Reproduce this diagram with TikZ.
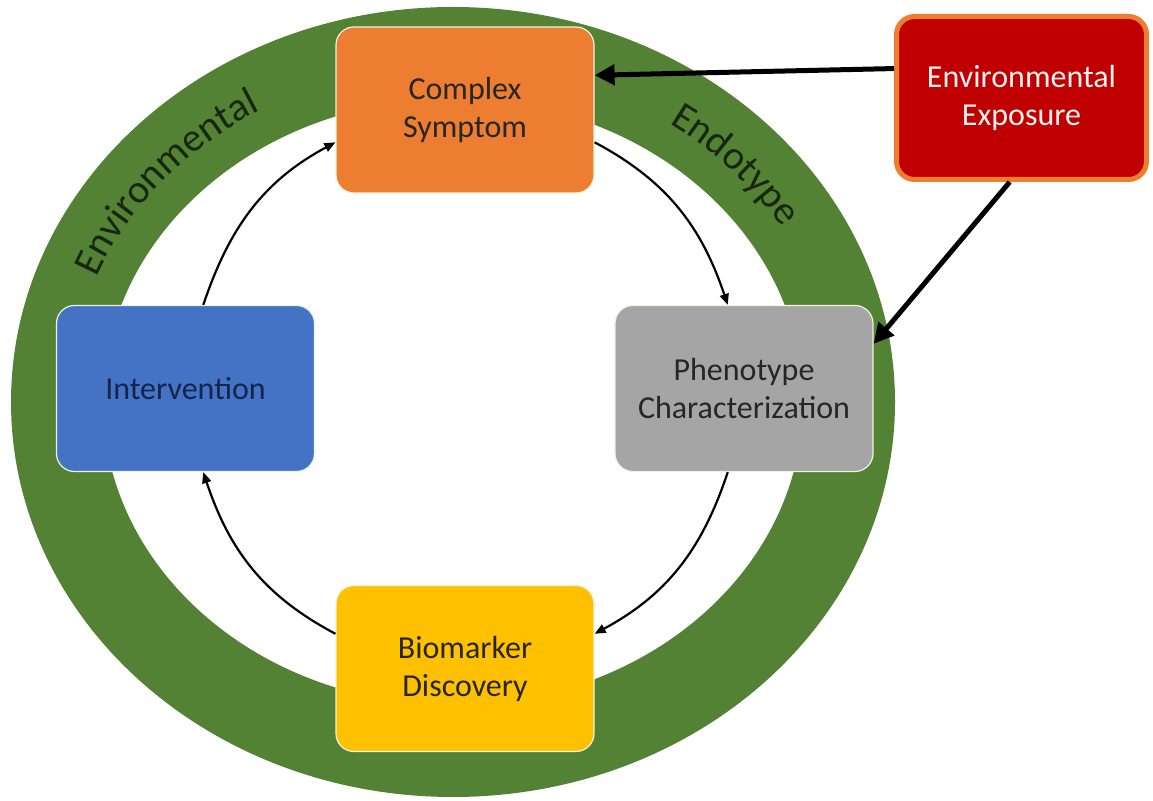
\documentclass[tikz,border=0pt]{standalone}
\usepackage{fontspec}
\setmainfont{Carlito}
\usetikzlibrary{arrows.meta,decorations.text}
\definecolor{ringgreen}{HTML}{548235}
\definecolor{ringtext}{HTML}{18260F}
\definecolor{csorange}{HTML}{ED7D31}
\definecolor{eered}{HTML}{C00000}
\definecolor{ivblue}{HTML}{4472C4}
\definecolor{phgray}{HTML}{A5A5A5}
\definecolor{bmgold}{HTML}{FFC000}
\definecolor{boxline}{HTML}{EEF3DC}
\definecolor{darktxt}{HTML}{262626}
\definecolor{navytxt}{HTML}{15244A}
\definecolor{lighttxt}{HTML}{F2F2F2}
\tikzset{
  box/.style={rectangle, rounded corners=18pt, minimum width=258pt, minimum height=166pt,
    draw=boxline, line width=1.2pt, align=center, inner sep=0pt,
    font=\fontsize{32}{38}\selectfont, text=darktxt},
  cyc/.style={line width=2.2pt, draw=black, -{Triangle[length=11pt,width=9pt]}},
  expo/.style={line width=5pt, draw=black, -{Triangle[length=20pt,width=20pt]}},
  ringlabel/.style={decorate, decoration={text along path, text align=center,
    text={|\fontsize{40}{40}\selectfont\color{ringtext}|#1}}}
}
\begin{document}
\begin{tikzpicture}[x=1pt,y=1pt]
\useasboundingbox (0,0) rectangle (1153,800);
% ring
\fill[ringgreen, even odd rule] (453,398) ellipse [x radius=442, y radius=395]
  (453,398) ellipse [x radius=350, y radius=303];
% ring labels
\path[ringlabel=Environmental] (453,398) ++(175:384 and 337)
  arc[start angle=175, end angle=105, x radius=384, y radius=337];
\path[ringlabel=Endotype] (453,398) ++(75:384 and 337)
  arc[start angle=75, end angle=10, x radius=384, y radius=337];
% boxes
\node[box, fill=csorange] (cs) at (465,690) {Complex\\Symptom};
\node[box, fill=ivblue, text=navytxt] (iv) at (185.5,411.5) {Intervention};
\node[box, fill=phgray] (ph) at (744,411.5) {Phenotype\\Characterization};
\node[box, fill=bmgold] (bm) at (465,131.5) {Biomarker\\Discovery};
\node[box, fill=eered, draw=csorange, line width=5pt, minimum width=250pt,
  minimum height=163pt, text=lighttxt] (ee) at (1021.5,702) {Environmental\\Exposure};
% cycle arrows
\draw[cyc] (cs.-14) to[out=-28, in=108.6] (ph.101.6);
\draw[cyc] (ph.259) to[out=-108.3, in=28.3] (bm.15);
\draw[cyc] (bm.165) to[out=152.1, in=-71.6] (iv.282);
\draw[cyc] (iv.78) to[out=71.4, in=208.3] (cs.194);
% exposure arrows
\draw[expo] (ee.167.6) -- (cs.15);
\draw[expo] (ee.262) -- (ph.19);
\end{tikzpicture}
\end{document}
